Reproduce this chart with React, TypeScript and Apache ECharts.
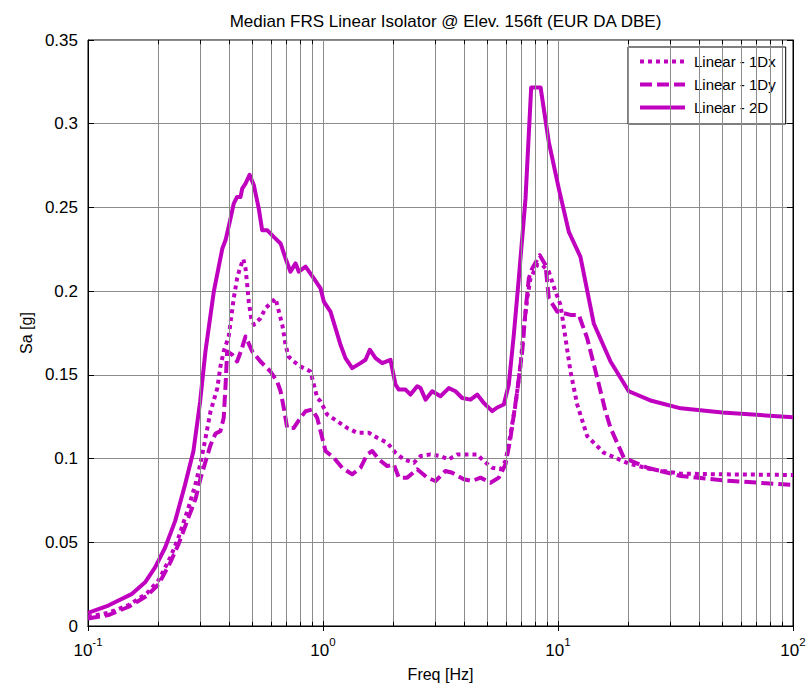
import React, { useEffect, useRef } from 'react';
import * as echarts from 'echarts';

const TITLE = 'Median FRS Linear Isolator @ Elev. 156ft (EUR DA DBE)';
const X_NAME = 'Freq [Hz]';
const Y_NAME = 'Sa [g]';
const SERIES_NAMES = ['Linear - 1Dx', 'Linear - 1Dy', 'Linear - 2D'];
const X_MIN = 0.1;
const X_MAX = 100;
const Y_MIN = 0;
const Y_MAX = 0.35;
const Y_STEP = 0.05;
const MINOR_FREQS = [0.2, 0.3, 0.4, 0.5, 0.6, 0.7, 0.8, 0.9, 2, 3, 4, 5, 6, 7, 8, 9, 20, 30, 40, 50, 60, 70, 80, 90];

// [frequency Hz, Sa g]
const LINEAR_1DX: [number, number][] = [
  [0.1, 0.0055], [0.122, 0.0078], [0.149, 0.0125], [0.178, 0.0195], [0.2, 0.0275], [0.224, 0.041],
  [0.243, 0.053], [0.268, 0.071], [0.287, 0.085], [0.301, 0.097], [0.316, 0.112], [0.332, 0.128],
  [0.355, 0.142], [0.366, 0.155], [0.378, 0.164], [0.397, 0.173], [0.417, 0.1957], [0.431, 0.2076],
  [0.443, 0.2136], [0.458, 0.2192], [0.468, 0.2136], [0.476, 0.2037], [0.483, 0.1938], [0.495, 0.1838],
  [0.508, 0.1799], [0.542, 0.1838], [0.569, 0.1898], [0.598, 0.1927], [0.628, 0.1957], [0.649, 0.1878],
  [0.671, 0.1799], [0.693, 0.168], [0.713, 0.161], [0.751, 0.158], [0.802, 0.155], [0.885, 0.152],
  [0.914, 0.1442], [0.945, 0.1362], [0.976, 0.1342], [1.042, 0.1263], [1.149, 0.1223], [1.268, 0.1183],
  [1.398, 0.1154], [1.566, 0.1154], [1.701, 0.1124], [1.876, 0.1094], [2.035, 0.1035], [2.207, 0.0995],
  [2.435, 0.0975], [2.6, 0.1015], [2.867, 0.1025], [3.162, 0.1015], [3.43, 0.0995], [3.725, 0.1025],
  [4.109, 0.1025], [4.531, 0.1025], [4.834, 0.0985], [5.248, 0.0945], [5.692, 0.0936], [5.977, 0.0985],
  [6.174, 0.1085], [6.594, 0.1323], [6.925, 0.156], [7.154, 0.1779], [7.394, 0.1957], [7.638, 0.2076],
  [8.153, 0.2156], [8.566, 0.2156], [9.14, 0.2116], [9.759, 0.1997], [10.25, 0.1918], [10.76, 0.1719],
  [11.3, 0.1521], [12.07, 0.1323], [13.31, 0.1134], [15.66, 0.1035], [20, 0.097], [25, 0.0936],
  [33.3, 0.091], [50, 0.0906], [100, 0.0902],
];

const LINEAR_1DY: [number, number][] = [
  [0.1, 0.0045], [0.122, 0.0065], [0.149, 0.0115], [0.178, 0.018], [0.2, 0.025], [0.224, 0.038],
  [0.243, 0.049], [0.268, 0.065], [0.287, 0.076], [0.301, 0.088], [0.316, 0.098], [0.332, 0.108],
  [0.349, 0.115], [0.366, 0.1164], [0.378, 0.1243], [0.385, 0.1442], [0.391, 0.164], [0.411, 0.162],
  [0.431, 0.158], [0.45, 0.165], [0.468, 0.1729], [0.5, 0.164], [0.542, 0.158], [0.598, 0.152],
  [0.638, 0.1461], [0.66, 0.1402], [0.681, 0.1302], [0.704, 0.1183], [0.751, 0.1183], [0.802, 0.1243],
  [0.843, 0.1283], [0.9, 0.1293], [0.945, 0.1243], [0.976, 0.1164], [1.025, 0.1045], [1.112, 0.1005],
  [1.207, 0.0945], [1.331, 0.0906], [1.444, 0.0945], [1.542, 0.1025], [1.62, 0.1045], [1.728, 0.0995],
  [1.876, 0.0955], [2.001, 0.0965], [2.102, 0.0886], [2.282, 0.0886], [2.517, 0.0936], [2.777, 0.0886],
  [3.011, 0.0866], [3.321, 0.0926], [3.547, 0.0915], [3.974, 0.0876], [4.314, 0.0866], [4.68, 0.0886],
  [5.162, 0.0856], [5.6, 0.0886], [5.977, 0.0965], [6.279, 0.1124], [6.706, 0.1402], [7.043, 0.164],
  [7.273, 0.1878], [7.512, 0.2076], [7.766, 0.2136], [8.364, 0.2215], [8.847, 0.2156], [9.14, 0.1957],
  [9.922, 0.1878], [11.3, 0.1858], [12.26, 0.1858], [13.31, 0.1719], [14.69, 0.1481], [15.92, 0.1283],
  [16.73, 0.1183], [19.05, 0.1005], [24, 0.0945], [33.3, 0.0896], [50, 0.087], [100, 0.0842],
];

const LINEAR_2D: [number, number][] = [
  [0.1, 0.0078], [0.122, 0.0122], [0.154, 0.0192], [0.175, 0.0261], [0.193, 0.035], [0.213, 0.0469],
  [0.235, 0.0628], [0.259, 0.0846], [0.281, 0.1045], [0.3, 0.134], [0.316, 0.164], [0.343, 0.1997],
  [0.373, 0.2255], [0.385, 0.2305], [0.404, 0.2433], [0.417, 0.2523], [0.431, 0.2563], [0.446, 0.2563],
  [0.453, 0.2612], [0.468, 0.2642], [0.487, 0.2695], [0.508, 0.2632], [0.533, 0.2493], [0.551, 0.2364],
  [0.579, 0.2364], [0.617, 0.2324], [0.66, 0.2285], [0.693, 0.2195], [0.727, 0.2116], [0.764, 0.2166],
  [0.789, 0.2116], [0.843, 0.2146], [0.914, 0.2076], [0.976, 0.2017], [1.008, 0.1938], [1.076, 0.1878],
  [1.13, 0.1779], [1.187, 0.168], [1.246, 0.16], [1.331, 0.154], [1.444, 0.157], [1.517, 0.159],
  [1.582, 0.165], [1.673, 0.16], [1.786, 0.157], [1.937, 0.159], [2.035, 0.1442], [2.102, 0.1412],
  [2.245, 0.1412], [2.357, 0.1382], [2.517, 0.1432], [2.6, 0.1421], [2.731, 0.1352], [2.915, 0.1402],
  [3.162, 0.1372], [3.43, 0.1421], [3.663, 0.1402], [3.911, 0.1362], [4.243, 0.1352], [4.531, 0.1382],
  [4.834, 0.1332], [5.248, 0.1283], [5.512, 0.1305], [5.88, 0.1323], [6.174, 0.1442], [6.485, 0.1739],
  [6.811, 0.2076], [7.273, 0.2552], [7.69, 0.3217], [8.43, 0.3217], [9.14, 0.289], [10.08, 0.2612],
  [11.12, 0.2354], [12.46, 0.2205], [14.21, 0.1805], [16.73, 0.158], [20, 0.1402], [25, 0.1345],
  [33.3, 0.13], [50, 0.1275], [100, 0.1247],
];

const FONT = '"Liberation Sans", Arial, Helvetica, sans-serif';
const COLOR = '#bf00bf';
const GRID_COLOR = '#8c8c8c';

function lineSeries(name: string, data: [number, number][], type: any) {
  return {
    name,
    type: 'line',
    data,
    z: 3,
    showSymbol: false,
    symbol: 'none',
    silent: true,
    itemStyle: { color: COLOR },
    lineStyle: { color: COLOR, width: 4, type, cap: 'butt', join: 'round' },
    emphasis: { disabled: true },
  };
}

export default function App() {
  const ref = useRef<HTMLDivElement>(null);
  useEffect(() => {
    document.body.style.margin = '0';
    if (!ref.current) return;
    const chart = echarts.init(ref.current, null, { renderer: 'svg' });
    const tickText = { fontSize: 17, color: '#000', fontFamily: FONT };
    const option: any = {
      animation: false,
      backgroundColor: '#fff',
      textStyle: { fontFamily: FONT },
      title: {
        text: TITLE,
        left: 440.5,
        textAlign: 'center',
        top: 8,
        textStyle: { fontSize: 17, fontWeight: 'normal', color: '#000', fontFamily: FONT },
      },
      grid: { left: 88, right: 16, top: 40, bottom: 64, show: true, borderColor: '#000', borderWidth: 1, backgroundColor: '#fff' },
      legend: {
        data: SERIES_NAMES,
        orient: 'vertical',
        left: 628,
        top: 47,
        padding: [7, 10, 9, 10],
        itemWidth: 45,
        itemHeight: 14,
        itemGap: 8,
        backgroundColor: '#fff',
        borderColor: '#000',
        borderWidth: 1,
        borderRadius: 0,
        selectedMode: false,
        itemStyle: { opacity: 0 },
        lineStyle: { width: 4 },
        textStyle: { fontSize: 15, color: '#000', fontFamily: FONT, padding: [0, 0, 0, 4] },
      },
      xAxis: [
        {
          type: 'log',
          logBase: 10,
          min: X_MIN,
          max: X_MAX,
          name: X_NAME,
          nameLocation: 'middle',
          nameGap: 40,
          nameTextStyle: { fontSize: 16, color: '#000', fontFamily: FONT },
          axisLine: { show: true, lineStyle: { color: '#000', width: 1 } },
          axisTick: { show: true, inside: true, length: 5, lineStyle: { color: '#000' } },
          axisLabel: {
            margin: 10,
            formatter: (v: number) => `{b|10}{e|${Math.round(Math.log10(v))}}`,
            rich: {
              b: { ...tickText, padding: [6, 0, 0, 0] },
              e: { fontSize: 11.5, color: '#000', fontFamily: FONT, verticalAlign: 'top' },
            },
          },
          splitLine: { show: true, lineStyle: { color: GRID_COLOR, width: 1 } },
        },
        {
          type: 'log',
          logBase: 10,
          min: X_MIN,
          max: X_MAX,
          position: 'top',
          axisLine: { show: true, lineStyle: { color: '#000', width: 1 } },
          axisTick: { show: true, inside: true, length: 5, lineStyle: { color: '#000' } },
          axisLabel: { show: false },
          splitLine: { show: false },
        },
      ],
      yAxis: [
        {
          type: 'value',
          min: Y_MIN,
          max: Y_MAX,
          interval: Y_STEP,
          name: Y_NAME,
          nameLocation: 'middle',
          nameGap: 48,
          nameTextStyle: { fontSize: 16, color: '#000', fontFamily: FONT },
          axisLine: { show: true, lineStyle: { color: '#000', width: 1 } },
          axisTick: { show: true, inside: true, length: 6, lineStyle: { color: '#000' } },
          axisLabel: { ...tickText, margin: 10 },
          splitLine: { show: true, lineStyle: { color: GRID_COLOR, width: 1 } },
        },
        {
          type: 'value',
          min: Y_MIN,
          max: Y_MAX,
          interval: Y_STEP,
          position: 'right',
          axisLine: { show: true, lineStyle: { color: '#000', width: 1 } },
          axisTick: { show: true, inside: true, length: 6, lineStyle: { color: '#000' } },
          axisLabel: { show: false },
          splitLine: { show: false },
        },
      ],
      series: [
        {
          name: 'minor-grid',
          type: 'line',
          data: [],
          z: 1,
          silent: true,
          markLine: {
            silent: true,
            symbol: ['none', 'none'],
            label: { show: false },
            lineStyle: { color: GRID_COLOR, width: 1, type: 'solid' },
            emphasis: { disabled: true },
            data: MINOR_FREQS.map((f) => ({ xAxis: f })),
          },
        },
        {
          name: 'minor-ticks',
          type: 'line',
          data: [],
          z: 4,
          silent: true,
          markLine: {
            silent: true,
            symbol: ['none', 'none'],
            label: { show: false },
            lineStyle: { color: '#000', width: 1, type: 'solid' },
            emphasis: { disabled: true },
            data: MINOR_FREQS.flatMap((f) => [
              [{ coord: [f, Y_MIN] }, { coord: [f, Y_MIN + 0.0025] }],
              [{ coord: [f, Y_MAX] }, { coord: [f, Y_MAX - 0.0025] }],
            ]),
          },
        },
        lineSeries(SERIES_NAMES[0], LINEAR_1DX, [4, 4]),
        lineSeries(SERIES_NAMES[1], LINEAR_1DY, [12, 5]),
        lineSeries(SERIES_NAMES[2], LINEAR_2D, 'solid'),
      ],
    };
    chart.setOption(option);
    return () => chart.dispose();
  }, []);
  return <div ref={ref} style={{ width: 809, height: 690 }} />;
}
